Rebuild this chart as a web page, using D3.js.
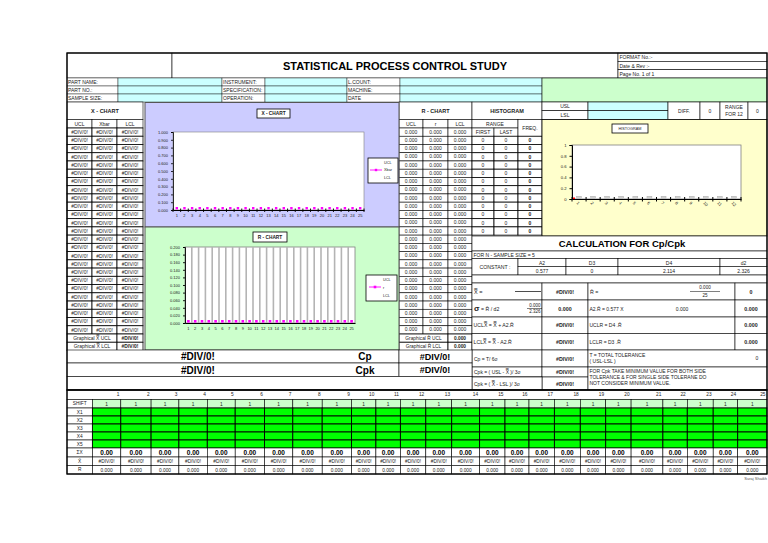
<!DOCTYPE html>
<html>
<head>
<meta charset="utf-8">
<script src="https://cdn.jsdelivr.net/npm/d3@7"></script>
<style>
body { margin: 0; background: #fff; }
svg { display: block; }
text { font-family: "Liberation Sans", Arial, sans-serif; }
</style>
</head>
<body>
<div id="sheet"></div>
<script>
// ---- data ----
const samples = ["1","2","3","4","5","6","7","8","9","10","11","12","13","14","15","16","17","18","19","20","21","22","23","24","25"];
const xbarPlot = [0,0,0,0,0,0,0,0,0,0,0,0,0,0,0,0,0,0,0,0,0,0,0,0,0];
const rangePlot = [0,0,0,0,0,0,0,0,0,0,0,0,0,0,0,0,0,0,0,0,0,0,0,0,0];
const xUcl = ["#DIV/0!","#DIV/0!","#DIV/0!","#DIV/0!","#DIV/0!","#DIV/0!","#DIV/0!","#DIV/0!","#DIV/0!","#DIV/0!","#DIV/0!","#DIV/0!","#DIV/0!","#DIV/0!","#DIV/0!","#DIV/0!","#DIV/0!","#DIV/0!","#DIV/0!","#DIV/0!","#DIV/0!","#DIV/0!","#DIV/0!","#DIV/0!","#DIV/0!"];
const xBar = ["#DIV/0!","#DIV/0!","#DIV/0!","#DIV/0!","#DIV/0!","#DIV/0!","#DIV/0!","#DIV/0!","#DIV/0!","#DIV/0!","#DIV/0!","#DIV/0!","#DIV/0!","#DIV/0!","#DIV/0!","#DIV/0!","#DIV/0!","#DIV/0!","#DIV/0!","#DIV/0!","#DIV/0!","#DIV/0!","#DIV/0!","#DIV/0!","#DIV/0!"];
const xLcl = ["#DIV/0!","#DIV/0!","#DIV/0!","#DIV/0!","#DIV/0!","#DIV/0!","#DIV/0!","#DIV/0!","#DIV/0!","#DIV/0!","#DIV/0!","#DIV/0!","#DIV/0!","#DIV/0!","#DIV/0!","#DIV/0!","#DIV/0!","#DIV/0!","#DIV/0!","#DIV/0!","#DIV/0!","#DIV/0!","#DIV/0!","#DIV/0!","#DIV/0!"];
const rUcl = ["0.000","0.000","0.000","0.000","0.000","0.000","0.000","0.000","0.000","0.000","0.000","0.000","0.000","0.000","0.000","0.000","0.000","0.000","0.000","0.000","0.000","0.000","0.000","0.000","0.000"];
const rMid = ["0.000","0.000","0.000","0.000","0.000","0.000","0.000","0.000","0.000","0.000","0.000","0.000","0.000","0.000","0.000","0.000","0.000","0.000","0.000","0.000","0.000","0.000","0.000","0.000","0.000"];
const rLcl = ["0.000","0.000","0.000","0.000","0.000","0.000","0.000","0.000","0.000","0.000","0.000","0.000","0.000","0.000","0.000","0.000","0.000","0.000","0.000","0.000","0.000","0.000","0.000","0.000","0.000"];
const bins = ["1","2","3","4","5","6","7","8","9","10","11","12"];
const binFirst = [0,0,0,0,0,0,0,0,0,0,0,0];
const binLast = [0,0,0,0,0,0,0,0,0,0,0,0];
const binFreq = [0,0,0,0,0,0,0,0,0,0,0,0];
const xTicks = [0,0.1,0.2,0.3,0.4,0.5,0.6,0.7,0.8,0.9,1];
const rTicks = [0,0.02,0.04,0.06,0.08,0.1,0.12,0.14,0.16,0.18,0.2];
const hTicks = [0,0.2,0.4,0.6,0.8,1];
const constNames = ["A2","D3","D4","d2"];
const constValues = ["0.577","0","2.114","2.326"];
const shiftRow = ["1","1","1","1","1","1","1","1","1","1","1","1","1","1","1","1","1","1","1","1","1","1","1","1","1"];
const sumXRow = ["0.00","0.00","0.00","0.00","0.00","0.00","0.00","0.00","0.00","0.00","0.00","0.00","0.00","0.00","0.00","0.00","0.00","0.00","0.00","0.00","0.00","0.00","0.00","0.00","0.00"];
const xBarRow = ["#DIV/0!","#DIV/0!","#DIV/0!","#DIV/0!","#DIV/0!","#DIV/0!","#DIV/0!","#DIV/0!","#DIV/0!","#DIV/0!","#DIV/0!","#DIV/0!","#DIV/0!","#DIV/0!","#DIV/0!","#DIV/0!","#DIV/0!","#DIV/0!","#DIV/0!","#DIV/0!","#DIV/0!","#DIV/0!","#DIV/0!","#DIV/0!","#DIV/0!"];
const rRow = ["0.000","0.000","0.000","0.000","0.000","0.000","0.000","0.000","0.000","0.000","0.000","0.000","0.000","0.000","0.000","0.000","0.000","0.000","0.000","0.000","0.000","0.000","0.000","0.000","0.000"];

const RIGHT = 767;

const svg = d3.select("#sheet").append("svg")
    .attr("width", 768)
    .attr("height", 543);

svg.append("rect").attr("width", 768).attr("height", 543).attr("fill", "#fff");

function box(x0, y0, x1, y1, fill = "none", sw = 0.6, stroke = "#000") {
  return svg.append("rect")
      .attr("x", x0).attr("y", y0)
      .attr("width", x1 - x0).attr("height", y1 - y0)
      .attr("fill", fill).attr("stroke", stroke).attr("stroke-width", sw);
}
function label(x, y, t, o = {}) {
  return svg.append("text")
      .attr("x", x).attr("y", y)
      .attr("font-size", o.size || 5.2)
      .attr("font-weight", o.bold ? "bold" : null)
      .attr("text-anchor", o.anchor || "start")
      .attr("dominant-baseline", "central")
      .attr("fill", o.color || "#222")
      .text(t);
}
function line(x0, y0, x1, y1, sw = 0.6, c = "#000") {
  return svg.append("line").attr("x1", x0).attr("y1", y0).attr("x2", x1).attr("y2", y1)
      .attr("stroke", c).attr("stroke-width", sw);
}

// ---- header ----
box(67, 53, 172, 78, "#fff");
box(172, 53, 618, 78, "#fff");
label(395, 66, "STATISTICAL PROCESS CONTROL STUDY", {size: 11, bold: true, anchor: "middle", color: "#000"});
["FORMAT No.:-", "Date & Rev :-", "Page No. 1 of 1"].forEach((t, i) => {
  box(618, 53 + i * 8.33, RIGHT, 61.33 + i * 8.33, "#fff");
  label(619.5, 57.4 + i * 8.33, t, {size: 5});
});

const info1 = ["PART NAME:", "PART NO.:", "SAMPLE SIZE:"];
const info2 = ["INSTRUMENT:", "SPECIFICATION:", "OPERATION:"];
const info3 = ["L.COUNT:", "MACHINE:", "DATE"];
info1.forEach((t, i) => {
  const y0 = 78 + i * 8, y1 = y0 + 8;
  box(67, y0, 118, y1, "#fff", 0.4);
  label(68, y0 + 4.2, t, {size: 5});
  box(118, y0, 222, y1, "#ccffff", 0.4);
  box(222, y0, 265, y1, "#fff", 0.4);
  label(223, y0 + 4.2, info2[i], {size: 5});
  box(265, y0, 347, y1, "#ccffff", 0.4);
  box(347, y0, 400, y1, "#fff", 0.4);
  label(348, y0 + 4.2, info3[i], {size: 5});
  box(400, y0, 542, y1, "#ccffff", 0.4);
});
box(542, 78, RIGHT, 102, "#ccffcc", 0.6);

// ---- table rows ----
const rowH = 8.24;
const rowTop = 128;
const rowY = i => rowTop + i * rowH;

// X table
box(67, 102, 143, 119.5, "#fff");
label(105, 111, "X - CHART", {size: 5.5, bold: true, anchor: "middle"});
const xCols = [67, 92, 117, 143];
["UCL", "Xbar", "LCL"].forEach((t, i) => {
  box(xCols[i], 119.5, xCols[i + 1], rowTop, "#fff");
  label((xCols[i] + xCols[i + 1]) / 2, 123.9, t, {size: 5, anchor: "middle"});
});
samples.forEach((s, i) => {
  const y0 = rowY(i), y1 = rowY(i + 1);
  [xUcl[i], xBar[i], xLcl[i]].forEach((v, j) => {
    box(xCols[j], y0, xCols[j + 1], y1, "#fff", 0.8);
    label((xCols[j] + xCols[j + 1]) / 2, y0 + 3.9, v, {size: 5, anchor: "middle"});
  });
});
[["Graphical X\u033f UCL", "#DIV/0!"], ["Graphical X\u033f LCL", "#DIV/0!"]].forEach((r, k) => {
  const y0 = rowY(25 + k), y1 = rowY(26 + k);
  box(67, y0, 117, y1, "#fff", 0.8);
  label(92, y0 + 4.1, r[0], {size: 5, anchor: "middle"});
  box(117, y0, 143, y1, "#fff", 0.8);
  label(130, y0 + 4.1, r[1], {size: 5, anchor: "middle", bold: true});
});

// R table
const rCols = [399, 423, 448, 472];
box(399, 102, 472, 119.5, "#fff");
label(435.5, 111, "R - CHART", {size: 5.5, bold: true, anchor: "middle"});
box(472, 102, 542, 119.5, "#fff");
label(507, 111, "HISTOGRAM", {size: 5.5, bold: true, anchor: "middle"});
["UCL", "r", "LCL"].forEach((t, i) => {
  box(rCols[i], 119.5, rCols[i + 1], rowTop, "#fff");
  label((rCols[i] + rCols[i + 1]) / 2, 123.9, t, {size: 5, anchor: "middle"});
});
samples.forEach((s, i) => {
  const y0 = rowY(i), y1 = rowY(i + 1);
  [rUcl[i], rMid[i], rLcl[i]].forEach((v, j) => {
    box(rCols[j], y0, rCols[j + 1], y1, "#fff", 0.6);
    label((rCols[j] + rCols[j + 1]) / 2, y0 + 3.7, v, {size: 5, anchor: "middle"});
  });
});
[["Graphical R\u0304 UCL", "0.000"], ["Graphical R\u0304 LCL", "0.000"]].forEach((r, k) => {
  const y0 = rowY(25 + k), y1 = rowY(26 + k);
  box(399, y0, 448, y1, "#fff", 0.8);
  label(423.5, y0 + 4.1, r[0], {size: 4.8, anchor: "middle"});
  box(448, y0, 472, y1, "#fff", 0.8);
  label(460, y0 + 4.1, r[1], {size: 4.8, anchor: "middle", bold: true});
});

// histogram table
const hCols = [472, 494, 518, 542];
box(472, 119.5, 518, rowTop, "#fff");
label(495, 123.9, "RANGE", {size: 5, anchor: "middle"});
box(472, rowTop, 494, rowY(1), "#fff");
label(483, rowTop + 4.1, "FIRST", {size: 5, anchor: "middle"});
box(494, rowTop, 518, rowY(1), "#fff");
label(506, rowTop + 4.1, "LAST", {size: 5, anchor: "middle"});
box(518, 119.5, 542, rowY(1), "#fff");
label(530, 128, "FREQ.", {size: 5, anchor: "middle"});
bins.forEach((b, i) => {
  const y0 = rowY(i + 1), y1 = rowY(i + 2);
  [binFirst[i], binLast[i], binFreq[i]].forEach((v, j) => {
    box(hCols[j], y0, hCols[j + 1], y1, "#fff", 0.8);
    label((hCols[j] + hCols[j + 1]) / 2, y0 + 4, v, {size: 5, anchor: "middle", bold: j === 2});
  });
});

// USL / LSL strip
box(542, 102, 588, 110.7, "#fff"); label(565, 106.4, "USL", {size: 5, anchor: "middle"});
box(542, 110.7, 588, 119.5, "#fff"); label(565, 115.1, "LSL", {size: 5, anchor: "middle"});
box(588, 102, 668, 110.7, "#ccffff");
box(588, 110.7, 668, 119.5, "#ccffff");
box(668, 102, 700, 119.5, "#fff"); label(684, 110.8, "DIFF.", {size: 5, anchor: "middle"});
box(700, 102, 720, 119.5, "#fff"); label(710, 110.8, "0", {size: 5, anchor: "middle"});
box(720, 102, 748, 119.5, "#fff");
label(734, 107.4, "RANGE", {size: 5, anchor: "middle"});
label(734, 114.2, "FOR 12", {size: 5, anchor: "middle"});
box(748, 102, RIGHT, 119.5, "#fff"); label(757.5, 110.8, "0", {size: 5, anchor: "middle"});

// ---- X chart ----
box(145, 102.5, 399, 227, "#ccccff", 1, "#555");
const xX = d3.scaleBand().domain(samples).range([173, 364]);
const yX = d3.scaleLinear().domain([0, 1]).range([210, 132]);
box(xX.range()[0], yX(1), xX.range()[1], yX(0), "#fff", 0.6, "#808080");
const gxY = svg.append("g").attr("transform", `translate(${xX.range()[0]},0)`)
    .call(d3.axisLeft(yX).tickValues(xTicks).tickSize(2).tickFormat(d3.format(".3f")));
gxY.selectAll("text").attr("font-size", 4).attr("fill", "#222");
gxY.selectAll("line, path").attr("stroke", "#000").attr("stroke-width", 0.8);
const gxX = svg.append("g").attr("transform", `translate(0,${yX(0)})`)
    .call(d3.axisBottom(xX).tickSize(0).tickPadding(4));
gxX.selectAll("text").attr("font-size", 4).attr("fill", "#222");
gxX.select("path").attr("stroke", "#000").attr("stroke-width", 1);
svg.append("g").selectAll("line").data(samples.concat(["end"])).join("line")
    .attr("x1", d => d === "end" ? xX.range()[1] : xX(d))
    .attr("x2", d => d === "end" ? xX.range()[1] : xX(d))
    .attr("y1", yX(0) - 1.5).attr("y2", yX(0) + 2)
    .attr("stroke", "#000").attr("stroke-width", 0.9);
svg.append("g").selectAll("rect").data(xbarPlot).join("rect")
    .attr("x", (d, i) => xX(samples[i]) + xX.bandwidth() / 2 - 1.2)
    .attr("y", d => yX(d) - 3)
    .attr("width", 2.4).attr("height", 2.4)
    .attr("fill", "#ff00ff");
box(257, 109, 290, 118, "#fff", 0.8);
label(273.5, 113.6, "X - CHART", {size: 4.8, bold: true, anchor: "middle"});
box(368, 158, 398, 183, "#fff", 0.8);
label(384, 162.5, "UCL", {size: 3.8});
line(370, 170, 382, 170, 0.9, "#ff00ff");
svg.append("rect").attr("x", 374.8).attr("y", 168.8).attr("width", 2.4).attr("height", 2.4).attr("fill", "#ff00ff");
label(384, 170, "Xbar", {size: 3.8});
label(384, 177.5, "LCL", {size: 3.8});

// ---- R chart ----
box(145, 227, 399, 350, "#ccffcc", 1, "#555");
const xR = d3.scaleBand().domain(samples).range([185, 355]);
const yR = d3.scaleLinear().domain([0, 0.2]).range([323, 247]);
box(xR.range()[0], yR(0.2), xR.range()[1], yR(0), "#fff", 0.8, "#808080");
svg.append("g").selectAll("line").data(samples.slice(1)).join("line")
    .attr("x1", d => xR(d)).attr("x2", d => xR(d))
    .attr("y1", yR(0.2)).attr("y2", yR(0))
    .attr("stroke", "#b4b4b4").attr("stroke-width", 1.6);
const grY = svg.append("g").attr("transform", `translate(${xR.range()[0]},0)`)
    .call(d3.axisLeft(yR).tickValues(rTicks).tickSize(2).tickFormat(d3.format(".3f")));
grY.selectAll("text").attr("font-size", 4).attr("fill", "#222");
grY.selectAll("line, path").attr("stroke", "#000").attr("stroke-width", 0.9);
const grX = svg.append("g").attr("transform", `translate(0,${yR(0)})`)
    .call(d3.axisBottom(xR).tickSize(0).tickPadding(4));
grX.selectAll("text").attr("font-size", 4).attr("fill", "#222");
grX.select("path").attr("stroke", "#000").attr("stroke-width", 1);
svg.append("g").selectAll("rect").data(rangePlot).join("rect")
    .attr("x", (d, i) => xR(samples[i]) + xR.bandwidth() / 2 - 1.3)
    .attr("y", d => yR(d) - 3)
    .attr("width", 2.6).attr("height", 2.6)
    .attr("fill", "#ff00ff");
box(253, 232, 287, 242, "#fff", 0.8);
label(270, 237, "R - CHART", {size: 4.8, bold: true, anchor: "middle"});
box(366, 275, 397, 301, "#fff", 0.8);
label(383, 279.5, "UCL", {size: 3.8});
line(369, 287, 381, 287, 0.9, "#ff00ff");
svg.append("rect").attr("x", 373.7).attr("y", 285.7).attr("width", 2.6).attr("height", 2.6).attr("fill", "#ff00ff");
label(383, 287.5, "r", {size: 3.8});
label(383, 295.5, "LCL", {size: 3.8});

// ---- histogram chart ----
box(542, 119.5, RIGHT, 236, "#ffffcc", 0.8);
const xH = d3.scaleBand().domain(bins).range([572, 741]);
const yH = d3.scaleLinear().domain([0, 1]).range([199, 145]);
box(572, 145, 741, 199, "#fff", 0.8, "#808080");
const ghY = svg.append("g").attr("transform", "translate(572,0)")
    .call(d3.axisLeft(yH).tickValues(hTicks).tickSize(2.5).tickFormat(d3.format("~g")));
ghY.selectAll("text").attr("font-size", 4.2).attr("fill", "#222");
ghY.selectAll("line, path").attr("stroke", "#000").attr("stroke-width", 1);
const ghX = svg.append("g").attr("transform", `translate(0,${yH(0)})`)
    .call(d3.axisBottom(xH).tickSize(0).tickPadding(3));
ghX.select("path").attr("stroke", "#000").attr("stroke-width", 1.2);
ghX.selectAll("text").attr("font-size", 4.2).attr("fill", "#222")
    .attr("text-anchor", "start")
    .attr("transform", "rotate(45)")
    .attr("dx", 1).attr("dy", 2);
svg.append("g").selectAll("line").data(bins.concat(["end"])).join("line")
    .attr("x1", d => d === "end" ? 741 : xH(d))
    .attr("x2", d => d === "end" ? 741 : xH(d))
    .attr("y1", yH(0) - 2).attr("y2", yH(0) + 2.5)
    .attr("stroke", "#000").attr("stroke-width", 1);
svg.append("g").selectAll("rect").data(binFreq).join("rect")
    .attr("x", (d, i) => xH(bins[i]) + xH.bandwidth() / 2 - 2.5)
    .attr("y", d => yH(d) - 2.8)
    .attr("width", 5).attr("height", 2.4)
    .attr("fill", "#d0d0d0").attr("stroke", "#999").attr("stroke-width", 0.3);
svg.append("rect").attr("x", 573).attr("y", yH(binFreq[0]) - 1.5)
    .attr("width", 2).attr("height", 1.5).attr("fill", "#ff0000");
box(612, 124, 648, 133, "#fff", 0.8);
label(630, 128.6, "HISTOGRAM", {size: 3.8, anchor: "middle"});

// ---- calculation block ----
box(472, 236, RIGHT, 251, "#fff");
label(622, 243.5, "CALCULATION FOR Cp/Cpk", {size: 9.5, bold: true, anchor: "middle", color: "#000"});
box(472, 251, RIGHT, 258.5, "#fff");
label(473.5, 254.8, "FOR  N - SAMPLE SIZE = 5", {size: 5});
box(472, 258.5, 518, 275, "#fff");
label(495, 266.8, "CONSTANT :", {size: 5.2, anchor: "middle"});
const cCols = [518, 566, 618, 720, RIGHT];
constNames.forEach((n, i) => {
  box(cCols[i], 258.5, cCols[i + 1], 266.5, "#fff");
  label((cCols[i] + cCols[i + 1]) / 2, 262.6, n, {size: 5, anchor: "middle"});
  box(cCols[i], 266.5, cCols[i + 1], 275, "#fff");
  label((cCols[i] + cCols[i + 1]) / 2, 270.9, constValues[i], {size: 5, anchor: "middle"});
});
box(472, 275, RIGHT, 283, "#fff");

const cRows = [283, 300, 317, 333.5, 350, 367, 377, 390];
const VAL = 735;
for (let i = 0; i < 7; i++) {
  box(472, cRows[i], 542, cRows[i + 1], "#fff");
  box(542, cRows[i], 588, cRows[i + 1], "#fff");
}
for (let i = 0; i < 4; i++) {
  box(588, cRows[i], VAL, cRows[i + 1], "#fff");
  box(VAL, cRows[i], RIGHT, cRows[i + 1], "#fff");
}
box(588, 350, RIGHT, 367, "#fff");
box(588, 367, RIGHT, 390, "#fff");
box(472, 377, 542, 390, "#fff");

const cy = i => (cRows[i] + cRows[i + 1]) / 2;
label(474, cy(0), "X\u033f  =", {size: 5.5});
line(515, cy(0), 541, cy(0), 0.7);
label(474, cy(1), "\u03c3", {size: 8, bold: true});
label(481, cy(1), " = R\u0304 / d2", {size: 5.2});
label(535, cy(1) - 3.3, "0.000", {size: 4.5, anchor: "middle"});
line(527, cy(1), 542, cy(1), 0.5);
label(535, cy(1) + 3.3, "2.326", {size: 4.5, anchor: "middle"});
label(473.5, cy(2), "UCLX\u033f = X\u033f + A2.R\u0304", {size: 5.2});
label(473.5, cy(3), "LCLX\u033f = X\u033f - A2.R\u0304", {size: 5.2});
label(474, cy(4), "Cp = T/ 6\u03c3", {size: 5});
label(474, cy(5), "Cpk = ( USL - X\u033f )/ 3\u03c3", {size: 5});
label(474, cy(6), "Cpk = ( X\u033f - LSL )/ 3\u03c3", {size: 5});
const midVals = ["#DIV/0!", "0.000", "#DIV/0!", "#DIV/0!", "#DIV/0!", "#DIV/0!", "#DIV/0!"];
midVals.forEach((v, i) => label(565, cy(i), v, {size: 5.3, bold: true, anchor: "middle"}));

label(590, cy(0), "R\u0304 =", {size: 5.3});
label(705, cy(0) - 3.6, "0.000", {size: 4.6, anchor: "middle"});
line(690, cy(0), 720, cy(0), 0.5);
label(705, cy(0) + 3.6, "25", {size: 4.6, anchor: "middle"});
label(589.5, cy(1), "A2.R\u0304 =   0.577 X", {size: 5});
label(682, cy(1), "0.000", {size: 5, anchor: "middle"});
label(589.5, cy(2), "UCLR = D4 .R\u0304", {size: 5});
label(589.5, cy(3), "LCLR = D3 .R\u0304", {size: 5});
["0", "0.000", "0.000", "0.000"].forEach((v, i) => label((VAL + RIGHT) / 2, cy(i), v, {size: 5.3, bold: true, anchor: "middle"}));
label(589.5, 354.6, "T = TOTAL TOLERANCE", {size: 5});
label(589.5, 361.4, "( USL-LSL )", {size: 5});
label(757, 357.5, "0", {size: 5, anchor: "middle"});
["FOR Cpk TAKE MINIMUM VALUE FOR BOTH SIDE", "TOLERANCE & FOR SINGLE SIDE TOLERANE DO", "NOT CONSIDER MINIMUM VALUE."]
  .forEach((t, i) => label(589.5, 371 + i * 5.8, t, {size: 5}));

// ---- Cp / Cpk big rows ----
box(67, 350, 399, 363, "#fff");
box(67, 363, 399, 376.5, "#fff");
box(399, 350, 472, 363, "#fff");
box(399, 363, 472, 376.5, "#fff");
box(67, 376.5, 472, 390, "#fff");
label(198, 356.8, "#DIV/0!", {size: 10, bold: true, anchor: "middle", color: "#000"});
label(365, 356.8, "Cp", {size: 10, bold: true, anchor: "middle", color: "#000"});
label(198, 370, "#DIV/0!", {size: 10, bold: true, anchor: "middle", color: "#000"});
label(365, 370, "Cpk", {size: 10, bold: true, anchor: "middle", color: "#000"});
label(435, 356.5, "#DIV/0!", {size: 9, bold: true, anchor: "middle", color: "#000"});
label(435, 369.5, "#DIV/0!", {size: 9, bold: true, anchor: "middle", color: "#000"});

// ---- bottom reading table ----
const colEdges = [92.4, 120.8, 151.1, 178.9, 207.3, 235.2, 264.5, 292.8, 322.2, 351.5, 375.9, 400.4, 425.8, 451.7, 479.6, 505.0, 529.0, 554.4, 580.3, 605.7, 631.1, 662.9, 687.3, 713.2, 737.7, RIGHT];
box(67, 390, RIGHT, 399.5, "#fff");
samples.forEach((s, i) => label(colEdges[i + 1] - 1.5, 394.9, s, {size: 4.8, anchor: "end"}));
const rowLabels = ["SHIFT", "X1", "X2", "X3", "X4", "X5", "\u03a3X", "X\u0304", "R"];
const bRows = [399.5, 408, 416, 424, 432, 440, 448, 457, 465.5, 474];
rowLabels.forEach((t, r) => {
  const y0 = bRows[r], y1 = bRows[r + 1];
  box(67, y0, 92.4, y1, "#fff", 0.6);
  label(79.7, (y0 + y1) / 2, t, {size: 4.8, anchor: "middle"});
  samples.forEach((s, i) => {
    const fill = r === 0 ? "#ccffcc" : (r <= 5 ? "#00ff00" : "#fff");
    box(colEdges[i], y0, colEdges[i + 1], y1, fill, r >= 1 && r <= 5 ? 0.9 : 0.6);
    let v = null, o = {size: 4.8, anchor: "middle"};
    if (r === 0) v = shiftRow[i];
    if (r === 6) { v = sumXRow[i]; o = {size: 6.5, bold: true, anchor: "middle", color: "#000"}; }
    if (r === 7) v = xBarRow[i];
    if (r === 8) v = rRow[i];
    if (v !== null) label((colEdges[i] + colEdges[i + 1]) / 2, (y0 + y1) / 2 + 0.3, v, o);
  });
});
label(RIGHT, 478.5, "Suraj Shaikh", {size: 4, anchor: "end", color: "#555"});

// outer frame
box(67, 53, RIGHT, 390, "none", 1.3);
box(67, 390, RIGHT, 474, "none", 1.3);
</script>
</body>
</html>
